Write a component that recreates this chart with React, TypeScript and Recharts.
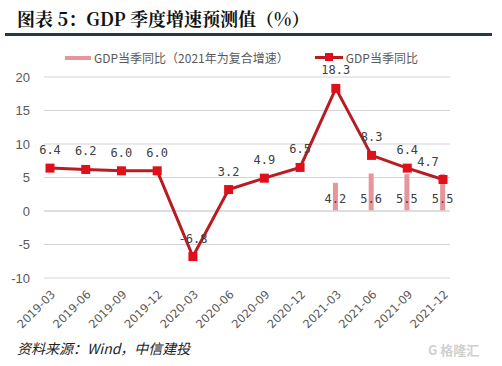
import { Bar, CartesianGrid, ComposedChart, LabelList, Legend, Line, ReferenceLine, XAxis, YAxis } from 'recharts'

const quarters = [
  '2019-03', '2019-06', '2019-09', '2019-12',
  '2020-03', '2020-06', '2020-09', '2020-12',
  '2021-03', '2021-06', '2021-09', '2021-12',
]
const gdpYoY = [6.4, 6.2, 6.0, 6.0, -6.8, 3.2, 4.9, 6.5, 18.3, 8.3, 6.4, 4.7]
const gdpCompound: (number | null)[] = [null, null, null, null, null, null, null, null, 4.2, 5.6, 5.5, 5.5]
const yTicks = [-10, -5, 0, 5, 10, 15, 20]

const barName = 'GDP当季同比（2021年为复合增速）'
const lineName = 'GDP当季同比'

const data = quarters.map((q, i) => ({ q, yoy: gdpYoY[i], compound: gdpCompound[i] }))

const labelFont = '"DejaVu Sans Mono", "Noto Sans CJK SC", monospace'
const axisFont = '"Liberation Sans", Arial, sans-serif'

function XTick({ x, y, payload }: any) {
  const tx = x + 6
  const ty = y + 9
  return (
    <text
      x={tx}
      y={ty}
      transform={`rotate(-45, ${tx}, ${ty})`}
      textAnchor="end"
      fontSize={11.5}
      fill="#595959"
      fontFamily='"DejaVu Sans", sans-serif'
    >
      {payload.value}
    </text>
  )
}

function LegendBox() {
  return (
    <div style={{ display: 'flex', fontSize: 12, color: '#595959', fontFamily: '"Noto Sans CJK SC", sans-serif', whiteSpace: 'nowrap' }}>
      <div style={{ display: 'flex', alignItems: 'center', marginLeft: 65 }}>
        <span style={{ width: 26, height: 4, background: '#e8949c', marginRight: 3 }} />
        {barName}
      </div>
      <div style={{ display: 'flex', alignItems: 'center', marginLeft: 26 }}>
        <span style={{ position: 'relative', width: 28, height: 3, background: '#b81c22', marginRight: 3 }}>
          <span style={{ position: 'absolute', left: 10, top: -3, width: 8, height: 8, background: '#e0101a' }} />
        </span>
        {lineName}
      </div>
    </div>
  )
}

function LineLabel({ x, y, value, index }: any) {
  const dx = index === 11 ? -15 : 0
  return (
    <text x={x + dx} y={y - 14} textAnchor="middle" fontSize={12} fill="#404040" fontFamily={labelFont}>
      {Number(value).toFixed(1)}
    </text>
  )
}

export default function App() {
  return (
    <div style={{ position: 'absolute', left: 0, top: 0, width: 502, height: 366, background: '#fff', fontFamily: '"Noto Sans CJK SC", sans-serif' }}>
      <div style={{ position: 'absolute', left: 17, top: 5, fontSize: 18, fontWeight: 700, color: '#111', fontFamily: '"Noto Serif CJK SC", "Noto Sans CJK SC", serif' }}>
        图表 5：GDP 季度增速预测值（%）
      </div>
      <div style={{ position: 'absolute', left: 5, top: 33, width: 487, height: 3, background: '#1f3a4d' }} />
      <ComposedChart
        width={502}
        height={340}
        data={data}
        margin={{ top: 77, right: 52, bottom: 0, left: 0 }}
      >
        <CartesianGrid horizontal vertical={false} stroke="#d4d4d4" />
        <XAxis
          dataKey="q"
          scale="point"
          padding={{ left: 6, right: 7 }}
          axisLine={false}
          tickLine={false}
          interval={0}
          height={62}
          tick={<XTick />}
        />
        <YAxis
          domain={[-10, 20]}
          ticks={yTicks}
          width={44}
          axisLine={false}
          tickLine={false}
          tickMargin={8}
          tick={{ fontSize: 13, fill: '#595959', fontFamily: axisFont }}
        />
        <ReferenceLine y={0} stroke="#d9d9d9" strokeWidth={1.5} />
        <Legend
          verticalAlign="middle"
          layout="horizontal"
          align="center"
          wrapperStyle={{ top: 49, left: 0, width: 502 }}
          content={<LegendBox />}
        />
        <Bar dataKey="compound" name={barName} barSize={5} fill="#e8949c" isAnimationActive={false}>
          <LabelList
            dataKey="compound"
            position="insideBottom"
            offset={8}
            fontSize={12}
            fill="#404040"
            fontFamily={labelFont}
            formatter={(v: any) => (v == null ? '' : Number(v).toFixed(1))}
          />
        </Bar>
        <Line
          dataKey="yoy"
          name={lineName}
          stroke="#b81c22"
          strokeWidth={3}
          isAnimationActive={false}
          dot={({ cx, cy, index }: any) => (
            <rect key={index} x={cx - 4.5} y={cy - 4.5} width={9} height={9} fill="#e0101a" />
          )}
        >
          <LabelList dataKey="yoy" content={<LineLabel />} />
        </Line>
      </ComposedChart>
      <div style={{ position: 'absolute', left: 17, top: 338, fontSize: 14, fontStyle: 'italic', color: '#222' }}>
        资料来源：Wind，中信建投
      </div>
      <div style={{ position: 'absolute', left: 428, top: 340, fontSize: 13, color: '#d0d0d0', fontWeight: 700 }}>
        G 格隆汇
      </div>
    </div>
  )
}
